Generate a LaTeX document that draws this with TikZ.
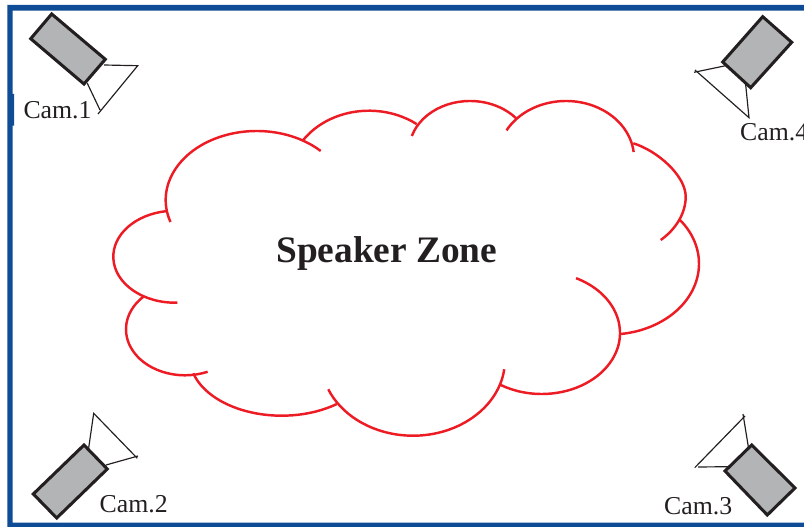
\documentclass[tikz,border=0pt]{standalone}
\usepackage{fontspec}
\setmainfont{Liberation Serif}
\definecolor{frameblue}{HTML}{0F4C96}
\definecolor{cloudred}{HTML}{ED1C24}
\definecolor{bodygray}{HTML}{B3B4B6}
\definecolor{inkblack}{HTML}{231F20}
\tikzset{
    cloudarc/.style={draw=cloudred,line width=2.1pt},
    cambody/.style={draw=inkblack,fill=bodygray,line width=2.6pt,line join=miter},
    camview/.style={draw=inkblack,line width=1pt},
    camlabel/.style={anchor=base west,inner sep=0pt,text=inkblack,font=\fontsize{22}{24}\selectfont},
    zonelabel/.style={anchor=base west,inner sep=0pt,text=inkblack,font=\fontsize{31.9}{34}\selectfont\bfseries}
}
% centre x, centre y, x radius, y radius, start angle, end angle
\newcommand{\cloudlobe}[6]{
    \draw[cloudarc] (#1,#2) ++(#5:#3 and #4) arc[start angle=#5,end angle=#6,x radius=#3,y radius=#4];
}
\begin{document}
\begin{tikzpicture}[x=0.3mm,y=-0.3mm]
    \useasboundingbox (0,0) rectangle (804,527);
    % Frame
    \fill[frameblue] (804,5) -- (7.3,5) -- (7.3,527) -- (804,527) -- (804,522.7)
        -- (12.7,522.7) -- (12.7,125.7) -- (14,125.7) -- (14,94) -- (12.7,94)
        -- (12.7,10.7) -- (804,10.7) -- cycle;
    % Cloud
    \cloudlobe{256.7}{200}{91}{69}{161.4}{314.7}
    \cloudlobe{369}{178.7}{80}{68}{214.8}{306.6}
    \cloudlobe{470}{151}{61}{50}{197.5}{320.7}
    \cloudlobe{566}{158}{68}{57}{209}{354}
    \draw[cloudarc] (633.3,143.3) .. controls (658,151) and (685.7,176) .. (685.7,196.7)
        .. controls (685.7,214) and (675,230) .. (660.7,240);
    \cloudlobe{610}{263.7}{89}{70.8}{321.2}{443.1}
    \cloudlobe{541.7}{333}{78.3}{61}{296}{481.6}
    \cloudlobe{413}{359.7}{92}{76}{7.2}{157.1}
    \cloudlobe{281.7}{357.1}{92}{58.6}{53.2}{164}
    \cloudlobe{185}{329.3}{59}{46}{67.4}{226}
    \cloudlobe{175}{256.7}{61.7}{46}{87.9}{262}
    \node[zonelabel] (zone) at (276,262.5) {Speaker Zone};
    % Cam.1
    \draw[camview] (104,65) -- (137.7,65.7) -- (98,114) (100,110) -- (87.3,83.3);
    \draw[cambody] (51.7,14) -- (105.3,59.3) -- (84,84) -- (30.7,38.7) -- cycle;
    \node[camlabel] (cam1) at (23.3,118.5) {Cam.1};
    % Cam.2
    \draw[camview] (88.7,447.7) -- (93.7,413.3) -- (137.3,458.3) (138,456) -- (106,465);
    \draw[cambody] (84,445) -- (107.3,469) -- (56.7,518) -- (33.3,494) -- cycle;
    \node[camlabel] (cam2) at (99.5,512.5) {Cam.2};
    % Cam.3
    \draw[camview] (748.3,446.7) -- (743,414) (745,416) -- (694.7,467.7) (698,467) -- (728,466.7);
    \draw[cambody] (751.7,445) -- (795,488) -- (767.3,515) -- (725,471) -- cycle;
    \node[camlabel] (cam3) at (664,514.3) {Cam.3};
    % Cam.4
    \draw[camview] (725.7,65.7) -- (694,72.3) (695,70) -- (749,117.7) -- (745.7,85);
    \draw[cambody] (762.7,16.7) -- (791.7,42.3) -- (750.7,87.7) -- (722.7,62) -- cycle;
    \node[camlabel] (cam4) at (740,141) {Cam.4};
\end{tikzpicture}
\end{document}
